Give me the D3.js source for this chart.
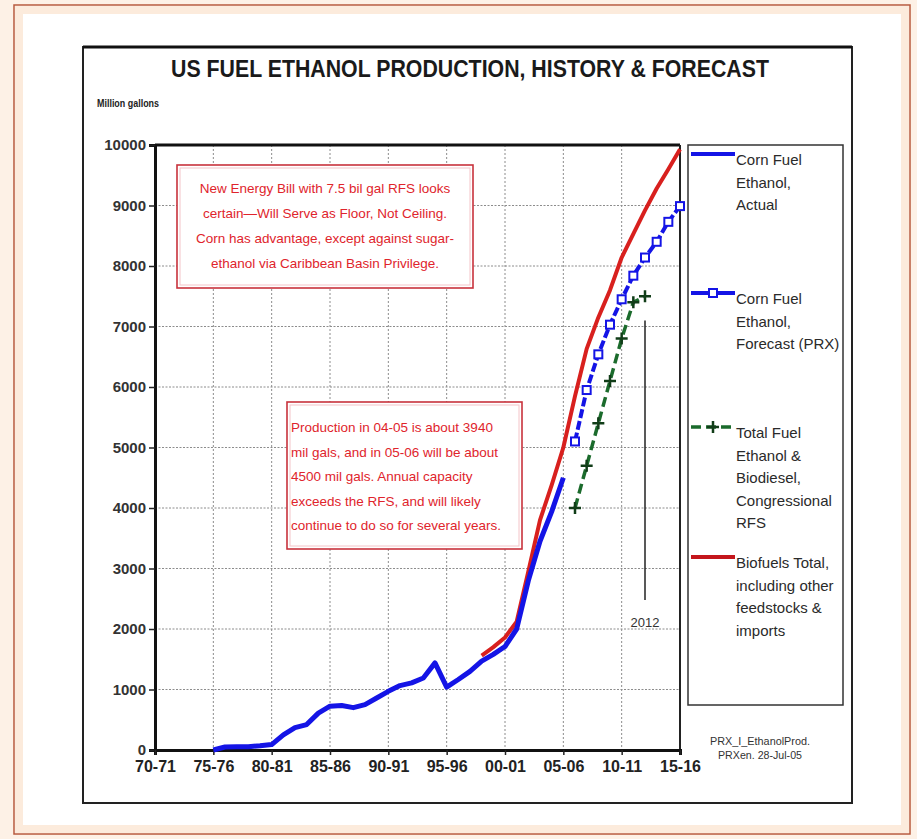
<!DOCTYPE html>
<html>
<head>
<meta charset="utf-8">
<script src="https://cdn.jsdelivr.net/npm/d3@7"></script>
<style>
  body { margin: 0; background: #fff; }
  svg { display: block; font-family: "Liberation Sans", Arial, sans-serif; }
</style>
</head>
<body>
<div id="chart"></div>
<script>
// x tick labels (crop years), one every 5 years from 1970
var tickYears = [1970, 1975, 1980, 1985, 1990, 1995, 2000, 2005, 2010, 2015];
var tickLabels = ["70-71", "75-76", "80-81", "85-86", "90-91", "95-96", "00-01", "05-06", "10-11", "15-16"];
var yTicks = [0, 1000, 2000, 3000, 4000, 5000, 6000, 7000, 8000, 9000, 10000];

// Corn fuel ethanol, actual (million gallons)
var actualYears = [1975, 1976, 1977, 1978, 1979, 1980, 1981, 1982, 1983, 1984, 1985, 1986, 1987, 1988, 1989,
                   1990, 1991, 1992, 1993, 1994, 1995, 1996, 1997, 1998, 1999, 2000, 2001, 2002, 2003, 2004, 2005];
var actualValues = [0, 50, 55, 55, 70, 90, 250, 370, 420, 610, 725, 735, 700, 750, 860,
                    970, 1065, 1110, 1190, 1440, 1040, 1165, 1300, 1470, 1580, 1710, 2000, 2800, 3450, 3940, 4500];

// Corn fuel ethanol, forecast (PRX)
var forecastYears = [2006, 2007, 2008, 2009, 2010, 2011, 2012, 2013, 2014, 2015];
var forecastValues = [5100, 5950, 6540, 7030, 7450, 7840, 8140, 8400, 8730, 8990];

// Total fuel ethanol & biodiesel, congressional RFS
var rfsYears = [2006, 2007, 2008, 2009, 2010, 2011, 2012];
var rfsValues = [4000, 4700, 5400, 6100, 6800, 7400, 7500];

// Biofuels total incl. other feedstocks & imports
var totalYears = [1998, 1999, 2000, 2001, 2002, 2003, 2004, 2005, 2006, 2007, 2008, 2009, 2010, 2011, 2012, 2013, 2014, 2015];
var totalValues = [1560, 1700, 1860, 2120, 2950, 3800, 4380, 5000, 5850, 6630, 7150, 7600, 8140, 8530, 8920, 9280, 9600, 9930];

var legendLabels = [
  ["Corn Fuel", "Ethanol,", "Actual"],
  ["Corn Fuel", "Ethanol,", "Forecast (PRX)"],
  ["Total Fuel", "Ethanol &", "Biodiesel,", "Congressional", "RFS"],
  ["Biofuels Total,", "including other", "feedstocks &", "imports"]
];

var note1 = ["New Energy Bill with 7.5 bil gal RFS looks",
             "certain\u2014Will Serve as Floor, Not Ceiling.",
             "Corn has advantage, except against sugar-",
             "ethanol via Caribbean Basin Privilege."];
var note2 = ["Production in 04-05 is about 3940",
             "mil gals, and in 05-06 will be about",
             "4500 mil gals.  Annual capacity",
             "exceeds the RFS, and will likely",
             "continue to do so for several years."];

var W = 917, H = 839;
var svg = d3.select("#chart").append("svg").attr("width", W).attr("height", H);

// page frame with peach glow
svg.append("rect").attr("x", 0).attr("y", 0).attr("width", W).attr("height", H).attr("fill", "#fdf1e6");
svg.append("rect").attr("x", 14).attr("y", 5).attr("width", 896).attr("height", 829)
  .attr("fill", "#fff").attr("stroke", "#b85a3c").attr("stroke-width", 1.5);
svg.append("rect").attr("x", 19).attr("y", 10).attr("width", 886).attr("height", 819)
  .attr("fill", "none").attr("stroke", "#fcebdc").attr("stroke-width", 8);

// chart box
svg.append("rect").attr("x", 83).attr("y", 47).attr("width", 769).attr("height", 756)
  .attr("fill", "#fff").attr("stroke", "#222").attr("stroke-width", 2);
svg.append("line").attr("x1", 83).attr("x2", 852).attr("y1", 47).attr("y2", 47)
  .attr("stroke", "#111").attr("stroke-width", 3);

svg.append("text").attr("x", 470).attr("y", 77).attr("text-anchor", "middle")
  .attr("font-size", 24).attr("font-weight", "bold").attr("fill", "#1a1a1a")
  .attr("textLength", 598).attr("lengthAdjust", "spacingAndGlyphs")
  .text("US FUEL ETHANOL PRODUCTION, HISTORY & FORECAST");

svg.append("text").attr("x", 97).attr("y", 107)
  .attr("font-size", 11).attr("font-weight", "bold").attr("fill", "#222")
  .attr("textLength", 62).attr("lengthAdjust", "spacingAndGlyphs")
  .text("Million gallons");

var x = d3.scaleLinear().domain([1970, 2015]).range([155, 680]);
var y = d3.scaleLinear().domain([0, 10000]).range([750, 145]);

var g = svg.append("g");

// grid
g.selectAll(".hgrid").data(yTicks.slice(1, -1)).enter().append("line")
  .attr("x1", x(1970)).attr("x2", x(2015))
  .attr("y1", function (d) { return y(d); }).attr("y2", function (d) { return y(d); })
  .attr("stroke", "#8c8c8c").attr("stroke-width", 1).attr("stroke-dasharray", "2,1.5");
g.selectAll(".vgrid").data(tickYears.slice(1, -1)).enter().append("line")
  .attr("x1", function (d) { return x(d); }).attr("x2", function (d) { return x(d); })
  .attr("y1", y(10000)).attr("y2", y(0))
  .attr("stroke", "#8c8c8c").attr("stroke-width", 1).attr("stroke-dasharray", "2,2");

// plot border top + right
g.append("line").attr("x1", x(1970)).attr("x2", x(2015)).attr("y1", y(10000)).attr("y2", y(10000))
  .attr("stroke", "#111").attr("stroke-width", 3);
g.append("line").attr("x1", x(2015)).attr("x2", x(2015)).attr("y1", y(10000)).attr("y2", y(0))
  .attr("stroke", "#222").attr("stroke-width", 2);

// axes
var yAxis = g.append("g").attr("transform", "translate(" + x(1970) + ",0)")
  .call(d3.axisLeft(y).tickValues(yTicks).tickSize(6).tickPadding(3).tickFormat(d3.format("d")));
yAxis.select(".domain").attr("stroke", "#111").attr("stroke-width", 3);
yAxis.selectAll(".tick line").attr("stroke", "#222").attr("stroke-width", 1.5);
yAxis.selectAll(".tick text").attr("font-size", 15).attr("font-weight", "bold").attr("fill", "#333")
  .attr("font-family", "Liberation Sans, Arial, sans-serif");

var xAxis = g.append("g").attr("transform", "translate(0," + y(0) + ")")
  .call(d3.axisBottom(x).tickValues(tickYears).tickSize(5).tickPadding(6)
    .tickFormat(function (d, i) { return tickLabels[i]; }));
xAxis.select(".domain").attr("stroke", "#111").attr("stroke-width", 3);
xAxis.selectAll(".tick line").attr("stroke", "#222").attr("stroke-width", 1.5);
xAxis.selectAll(".tick text").attr("font-size", 16).attr("font-weight", "bold").attr("fill", "#222")
  .attr("font-family", "Liberation Sans, Arial, sans-serif");

// annotation boxes
function noteBox(lines, bx, by, bw, bh, tx, ty, step, anchor) {
  svg.append("rect").attr("x", bx).attr("y", by).attr("width", bw).attr("height", bh)
    .attr("fill", "#fff").attr("stroke", "#c8323c").attr("stroke-width", 1.6);
  svg.append("rect").attr("x", bx + 3).attr("y", by + 3).attr("width", bw - 6).attr("height", bh - 6)
    .attr("fill", "none").attr("stroke", "#f4c4c8").attr("stroke-width", 1);
  svg.selectAll(null).data(lines).enter().append("text")
    .attr("x", tx).attr("y", function (d, i) { return ty + i * step; })
    .attr("text-anchor", anchor).attr("font-size", 13.5).attr("fill", "#e0242c")
    .text(function (d) { return d; });
}
noteBox(note1, 177, 165, 296, 123, 325, 193, 25, "middle");
noteBox(note2, 287, 402, 235, 147, 291, 432, 24.5, "start");

var line = d3.line().x(function (d) { return x(d[0]); }).y(function (d) { return y(d[1]); });
var zip = function (a, b) { return a.map(function (v, i) { return [v, b[i]]; }); };

// biofuels total (red)
g.append("path").datum(zip(totalYears, totalValues)).attr("d", line)
  .attr("fill", "none").attr("stroke", "#d8201e").attr("stroke-width", 4).attr("stroke-linejoin", "round");

// corn actual (blue)
g.append("path").datum(zip(actualYears, actualValues)).attr("d", line)
  .attr("fill", "none").attr("stroke", "#1414e6").attr("stroke-width", 5).attr("stroke-linejoin", "round");

// RFS (green dashed + plus)
var rfs = zip(rfsYears, rfsValues);
g.append("path").datum(rfs).attr("d", line)
  .attr("fill", "none").attr("stroke", "#1b6b2c").attr("stroke-width", 3.5).attr("stroke-dasharray", "10,5");
g.selectAll(".plus").data(rfs).enter().append("path")
  .attr("d", d3.symbol().type(d3.symbolCross).size(0))
  .attr("transform", function (d) { return "translate(" + x(d[0]) + "," + y(d[1]) + ")"; })
  .each(function () {
    d3.select(this).attr("d", "M-6,0H6M0,-6V6");
  })
  .attr("stroke", "#113d18").attr("stroke-width", 2.5);

// forecast (blue dashed + squares)
var fc = zip(forecastYears, forecastValues);
g.append("path").datum(fc).attr("d", line)
  .attr("fill", "none").attr("stroke", "#1414e6").attr("stroke-width", 4).attr("stroke-dasharray", "9,3");
g.selectAll(".sq").data(fc).enter().append("rect")
  .attr("x", function (d) { return x(d[0]) - 4; }).attr("y", function (d) { return y(d[1]) - 4; })
  .attr("width", 8).attr("height", 8)
  .attr("fill", "#fff").attr("stroke", "#1414e6").attr("stroke-width", 2);

// 2012 marker
g.append("line").attr("x1", x(2012)).attr("x2", x(2012)).attr("y1", y(7100)).attr("y2", y(2480))
  .attr("stroke", "#222").attr("stroke-width", 1.5);
g.append("text").attr("x", x(2012)).attr("y", y(2120) + 5).attr("text-anchor", "middle")
  .attr("font-size", 13).attr("fill", "#333").text("2012");

// legend
svg.append("rect").attr("x", 688).attr("y", 145).attr("width", 155).attr("height", 560)
  .attr("fill", "#fff").attr("stroke", "#333").attr("stroke-width", 1.5);
var legendY = [154, 293, 427, 557];
var lg = svg.append("g");
legendLabels.forEach(function (lines, k) {
  var ly = legendY[k];
  var row = lg.append("g");
  if (k === 0) {
    row.append("line").attr("x1", 691).attr("x2", 735).attr("y1", ly).attr("y2", ly)
      .attr("stroke", "#1414e6").attr("stroke-width", 4);
  } else if (k === 1) {
    row.append("line").attr("x1", 691).attr("x2", 735).attr("y1", ly).attr("y2", ly)
      .attr("stroke", "#1414e6").attr("stroke-width", 4);
    row.append("rect").attr("x", 709).attr("y", ly - 4).attr("width", 8).attr("height", 8)
      .attr("fill", "#fff").attr("stroke", "#1414e6").attr("stroke-width", 2);
  } else if (k === 2) {
    row.append("line").attr("x1", 691).attr("x2", 735).attr("y1", ly).attr("y2", ly)
      .attr("stroke", "#1b6b2c").attr("stroke-width", 3.5).attr("stroke-dasharray", "10,5");
    row.append("path").attr("d", "M" + 707 + "," + ly + "h12M713," + (ly - 6) + "v12")
      .attr("stroke", "#113d18").attr("stroke-width", 2.5);
  } else {
    row.append("line").attr("x1", 691).attr("x2", 735).attr("y1", ly).attr("y2", ly)
      .attr("stroke", "#c4161c").attr("stroke-width", 4);
  }
  row.selectAll("text").data(lines).enter().append("text")
    .attr("x", 736).attr("y", function (d, i) { return ly + 11 + i * 22.5; })
    .attr("font-size", 15).attr("fill", "#2a2a2a")
    .text(function (d) { return d; });
});

// source footnote
svg.append("text").attr("x", 760).attr("y", 745).attr("text-anchor", "middle")
  .attr("font-size", 10).attr("fill", "#333").attr("textLength", 100).attr("lengthAdjust", "spacingAndGlyphs")
  .text("PRX_I_EthanolProd.");
svg.append("text").attr("x", 760).attr("y", 759).attr("text-anchor", "middle")
  .attr("font-size", 10).attr("fill", "#333").attr("textLength", 84).attr("lengthAdjust", "spacingAndGlyphs")
  .text("PRXen. 28-Jul-05");
</script>
</body>
</html>
